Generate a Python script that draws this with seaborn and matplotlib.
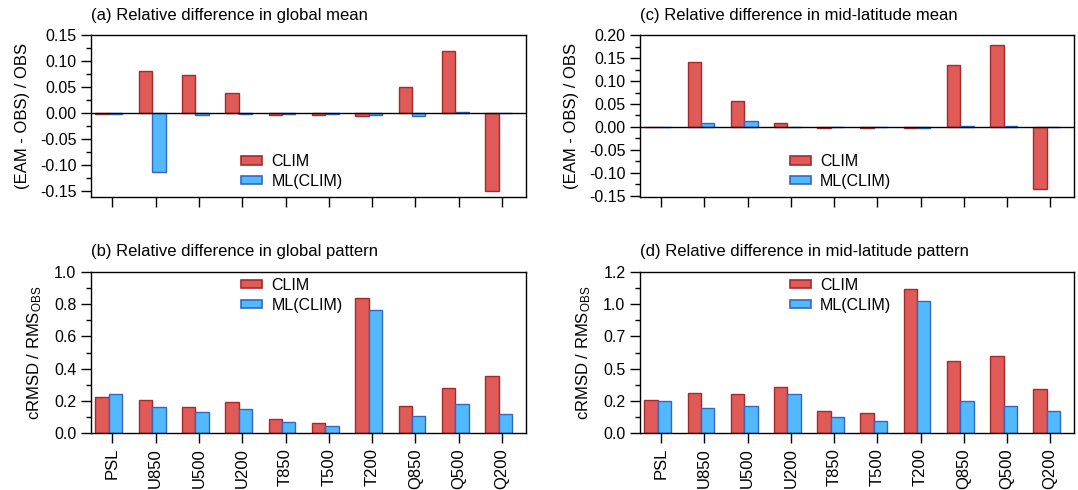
import numpy as np
import pandas as pd
import matplotlib
matplotlib.use("Agg")
import matplotlib.pyplot as plt
from matplotlib.patches import Patch
from matplotlib.ticker import MultipleLocator, FixedLocator, FormatStrFormatter
import seaborn as sns

# variables on the x axis
variables = ['PSL', 'U850', 'U500', 'U200', 'T850', 'T500', 'T200', 'Q850', 'Q500', 'Q200']
runs = ['CLIM', 'ML(CLIM)']

# (a) relative difference in global mean
glob_mean_clim = [-0.001, 0.081, 0.074, 0.039, -0.003, -0.003, -0.005, 0.050, 0.119, -0.149]
glob_mean_ml = [-0.001, -0.113, -0.004, -0.001, -0.001, -0.001, -0.003, -0.005, 0.002, 0.0]
# (c) relative difference in mid-latitude mean
mid_mean_clim = [0.001, 0.141, 0.056, 0.009, -0.003, -0.003, -0.003, 0.135, 0.179, -0.135]
mid_mean_ml = [0.001, 0.009, 0.013, 0.001, 0.001, 0.001, -0.002, 0.003, 0.003, 0.0]
# (b) relative difference in global pattern
glob_pat_clim = [0.223, 0.208, 0.161, 0.194, 0.091, 0.064, 0.835, 0.167, 0.282, 0.355]
glob_pat_ml = [0.243, 0.161, 0.130, 0.148, 0.068, 0.043, 0.765, 0.109, 0.179, 0.118]
# (d) relative difference in mid-latitude pattern
mid_pat_clim = [0.258, 0.309, 0.302, 0.358, 0.170, 0.155, 1.116, 0.557, 0.598, 0.345]
mid_pat_ml = [0.253, 0.193, 0.214, 0.307, 0.126, 0.093, 1.021, 0.253, 0.214, 0.173]

# y tick labels as printed on the original (truncated, not rounded)
d_ticks = [0.0, 0.25, 0.5, 0.75, 1.0, 1.25]
d_ticklabels = ['0.0', '0.2', '0.5', '0.7', '1.0', '1.2']

fill = {'CLIM': '#E05A58', 'ML(CLIM)': '#52BAFC'}
edge = {'CLIM': '#A52A2A', 'ML(CLIM)': '#3566C2'}

sns.set_style("ticks")
plt.rcParams['font.family'] = ['Liberation Sans', 'DejaVu Sans']
plt.rcParams['mathtext.default'] = 'regular'
plt.rcParams['font.size'] = 11
for key in ('text.color', 'axes.labelcolor', 'xtick.color', 'ytick.color', 'axes.edgecolor'):
    plt.rcParams[key] = 'black'


def to_long(clim, ml):
    return pd.DataFrame({
        'var': variables * 2,
        'run': ['CLIM'] * len(variables) + ['ML(CLIM)'] * len(variables),
        'value': list(clim) + list(ml),
    })


fig = plt.figure(figsize=(10.78, 4.9), dpi=100)
ax_a = fig.add_axes([0.0844, 0.5973, 0.4035, 0.3312])
ax_c = fig.add_axes([0.5937, 0.5973, 0.4026, 0.3312])
ax_b = fig.add_axes([0.0844, 0.1157, 0.4035, 0.3298])
ax_d = fig.add_axes([0.5937, 0.1157, 0.4026, 0.3298])

panels = [
    (ax_a, glob_mean_clim, glob_mean_ml, '(a) Relative difference in global mean'),
    (ax_c, mid_mean_clim, mid_mean_ml, '(c) Relative difference in mid-latitude mean'),
    (ax_b, glob_pat_clim, glob_pat_ml, '(b) Relative difference in global pattern'),
    (ax_d, mid_pat_clim, mid_pat_ml, '(d) Relative difference in mid-latitude pattern'),
]

for ax, clim, ml, title in panels:
    df = to_long(clim, ml)
    sns.barplot(data=df, x='var', y='value', hue='run', hue_order=runs,
                palette=fill, width=0.62, gap=0, saturation=1, ax=ax,
                legend=False)
    for cont, run in zip(ax.containers, runs):
        for bar in cont:
            bar.set_edgecolor(edge[run])
            bar.set_linewidth(1.0)
    ax.set_xlim(-0.41, 9.63)
    ax.set_xticks(np.arange(len(variables)) + 0.08)
    ax.set_xlabel('')
    ax.set_title(title, loc='left', fontsize=12, pad=11)
    ax.tick_params(axis='both', which='major', direction='out', length=7, width=1, labelsize=11.5)
    ax.tick_params(axis='y', which='minor', direction='out', length=3.5, width=1)
    for s in ax.spines.values():
        s.set_visible(True)
        s.set_linewidth(1.0)
        s.set_color('black')

    handles = [Patch(facecolor=fill[r], edgecolor=edge[r], linewidth=1.2) for r in runs]
    if ax in (ax_a, ax_c):
        leg_anchor = (0.345, 0.16)
    else:
        leg_anchor = (0.345, 0.855)
    ax.legend(handles, runs, loc='center left', bbox_to_anchor=leg_anchor, frameon=False,
              handlelength=1.3, handleheight=0.45, handletextpad=0.6, labelspacing=0.3,
              fontsize=11.5, borderpad=0, borderaxespad=0)

# top row: mean differences
for ax in (ax_a, ax_c):
    ax.axhline(0, color='black', lw=1.0, zorder=3)
    ax.set_xticklabels([])
    ax.set_ylabel('(EAM - OBS) / OBS', fontsize=12, labelpad=7)
    ax.yaxis.set_major_locator(MultipleLocator(0.05))
    ax.yaxis.set_minor_locator(MultipleLocator(0.025))
    ax.yaxis.set_major_formatter(FormatStrFormatter('%.2f'))
ax_a.set_ylim(-0.162, 0.15)
ax_c.set_ylim(-0.153, 0.20)

# bottom row: pattern differences
for ax in (ax_b, ax_d):
    ax.set_xticklabels(variables, rotation=90, fontsize=12)
    ax.set_ylabel('cRMSD / RMS$_{OBS}$', fontsize=12, labelpad=7)
ax_b.set_ylim(0, 1.0)
ax_b.yaxis.set_major_locator(MultipleLocator(0.2))
ax_b.yaxis.set_minor_locator(MultipleLocator(0.1))
ax_b.yaxis.set_major_formatter(FormatStrFormatter('%.1f'))
ax_d.set_ylim(0, 1.25)
ax_d.set_yticks(d_ticks)
ax_d.set_yticklabels(d_ticklabels)
ax_d.yaxis.set_minor_locator(FixedLocator(np.arange(0.125, 1.25, 0.25)))

fig.savefig('out.png', dpi=100)
